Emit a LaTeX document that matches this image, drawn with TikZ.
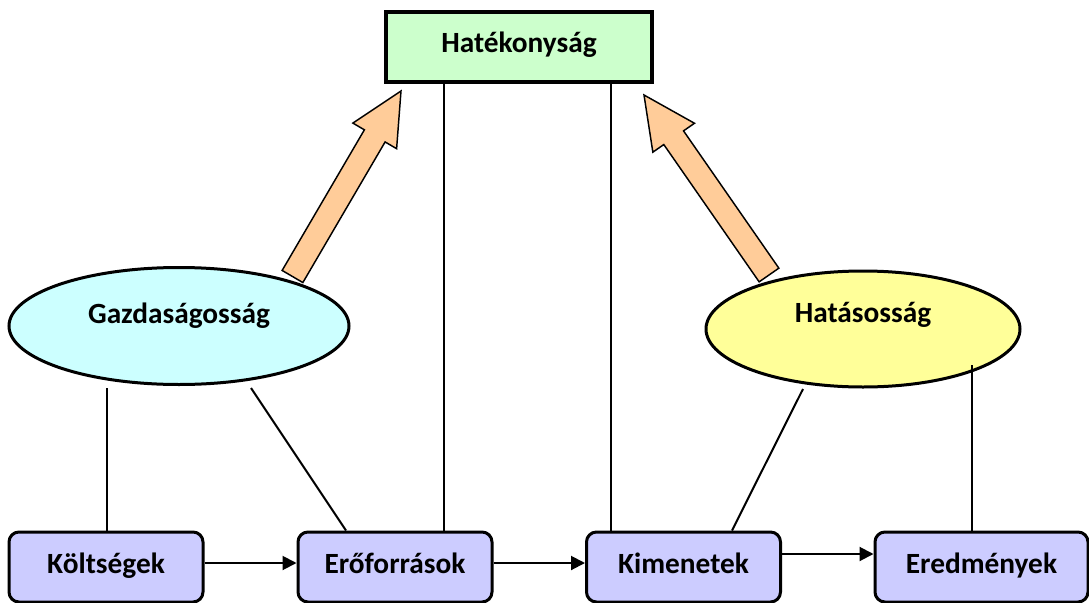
\documentclass[tikz,border=0pt]{standalone}
\usepackage{fontspec}
\setmainfont{Carlito}
\usetikzlibrary{shapes.geometric,arrows.meta,calc}
\definecolor{topgreen}{HTML}{CCFFCC}
\definecolor{ellcyan}{HTML}{CCFFFF}
\definecolor{ellyellow}{HTML}{FFFF99}
\definecolor{boxblue}{HTML}{CCCCFF}
\definecolor{arrorange}{HTML}{FFCC99}
\tikzset{
  lbl/.style={font=\bfseries\fontsize{22}{26}\selectfont},
  topbox/.style={lbl, draw, line width=3pt, fill=topgreen, minimum width=199.5pt,
     inner xsep=0pt, inner ysep=0pt, text height=30pt, text depth=22.5pt},
  stagebox/.style={lbl, draw, line width=2.25pt, fill=boxblue, rounded corners=7.5pt,
     minimum width=145.5pt, inner xsep=0pt, inner ysep=0pt, text height=30.75pt, text depth=21.75pt},
  oval/.style={lbl, ellipse, draw, line width=2.25pt, inner sep=0pt},
  conn/.style={line width=1.5pt},
  flow/.style={line width=1.5pt, -{Triangle[length=10.5pt,width=10.5pt]}},
  fatarrow/.style={draw, line width=1.1pt, fill=arrorange, line join=miter}
}
\begin{document}
\begin{tikzpicture}[x=0.75pt,y=-0.75pt]
\useasboundingbox (0,0) rectangle (1089,603);

% block arrows (drawn first so ellipses overlap)
\coordinate (lb) at (292.5,276.5);
\coordinate (lt) at (401,91);
\coordinate (lh) at ($(lt)!39pt!(lb)$);
\filldraw[fatarrow] ($(lb)!9pt!90:(lt)$) -- ($(lh)!9pt!-90:(lb)$) -- ($(lh)!19pt!-90:(lb)$) -- (lt)
   -- ($(lh)!19pt!90:(lb)$) -- ($(lh)!9pt!90:(lb)$) -- ($(lb)!9pt!-90:(lt)$) -- cycle;
\coordinate (rb) at (769,275);
\coordinate (rt) at (644,95);
\coordinate (rh) at ($(rt)!39pt!(rb)$);
\filldraw[fatarrow] ($(rb)!9pt!90:(rt)$) -- ($(rh)!9pt!-90:(rb)$) -- ($(rh)!19pt!-90:(rb)$) -- (rt)
   -- ($(rh)!19pt!90:(rb)$) -- ($(rh)!9pt!90:(rb)$) -- ($(rb)!9pt!-90:(rt)$) -- cycle;

% nodes
\node[topbox] (hat) at (519,47) {Hatékonyság};
\node[oval, fill=ellcyan, minimum width=255pt, minimum height=87.75pt,
      text height=10pt, text depth=14.5pt] (gaz) at (179,326) {Gazdaságosság};
\node[oval, fill=ellyellow, minimum width=235.5pt, minimum height=87pt,
      text height=10pt, text depth=20.5pt] (hats) at (863,329) {Hatásosság};
\node[stagebox] (kol) at (106,567) {Költségek};
\node[stagebox] (ero) at (395,567) {Erőforrások};
\node[stagebox] (kim) at (683.5,567) {Kimenetek};
\node[stagebox, minimum width=159.75pt] (ere) at (981.5,567) {Eredmények};

% free ends
\coordinate (v1) at (444,0);
\coordinate (v2) at (611,0);
\coordinate (g1) at (107,388);
\coordinate (g2) at (251,388);
\coordinate (e2) at (346,0);
\coordinate (h1) at (803,389);
\coordinate (k2) at (732,0);
\coordinate (h2) at (972,365);

% connectors
\draw[conn] (hat.south -| v1) -- (ero.north -| v1);
\draw[conn] (hat.south -| v2) -- (kim.north -| v2);
\draw[conn] (g1) -- (kol.north -| g1);
\draw[conn] (g2) -- (ero.north -| e2);
\draw[conn] (h1) -- (kim.north -| k2);
\draw[conn] (h2) -- (ere.north -| h2);

\draw[flow] ([yshift=3pt]kol.east) -- ([yshift=3pt]ero.west);
\draw[flow] ([yshift=3pt]ero.east) -- ([yshift=3pt]kim.west);
\draw[flow] ([yshift=9.75pt]kim.east) -- ([yshift=9.75pt]ere.west);
\end{tikzpicture}
\end{document}
